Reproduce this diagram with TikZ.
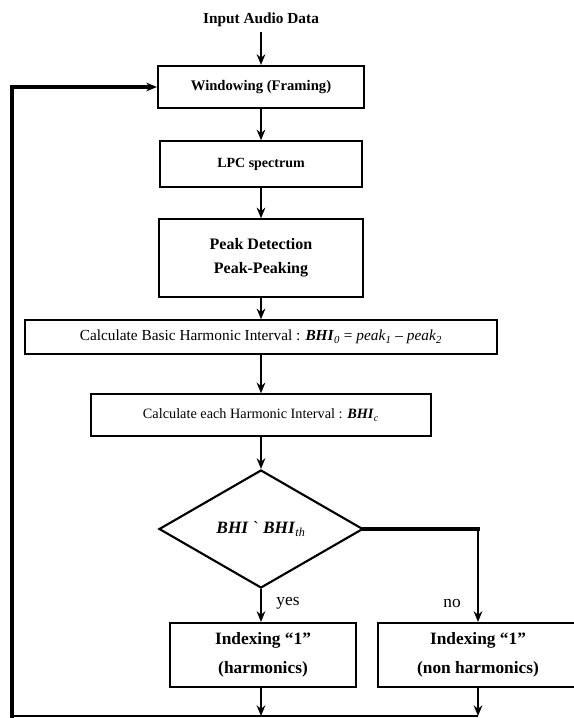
\documentclass[tikz,border=0pt]{standalone}
\usepackage{fontspec}
\setmainfont{Liberation Serif}
\usetikzlibrary{shapes.geometric,arrows.meta}
\newcommand\bhi{\textbf{\textit{BHI}}}

\begin{document}
\begin{tikzpicture}[x=0.75pt,y=-0.75pt,
    box/.style={draw,line width=1.6pt,inner sep=2pt,align=center},
    flow/.style={line width=1.7pt,-{Stealth[length=8pt,width=6.5pt]}},
    heavy/.style={line width=2.6pt,line cap=rect}]
    \useasboundingbox (0,0) rectangle (574,718);
    \node (in) at (261,20) [font=\fontsize{11.5}{13}\selectfont\bfseries] {Input Audio Data}; % source
    \node (win) at (261,87) [box,minimum width=154.5pt,minimum height=31.5pt,font=\fontsize{11}{13}\selectfont\bfseries] {Windowing (Framing)};
    \node (lpc) at (261,164) [box,minimum width=152pt,minimum height=34pt,font=\fontsize{10.5}{13}\selectfont\bfseries] {LPC spectrum};
    \node (peak) at (261,258) [box,minimum width=153pt,minimum height=58pt,font=\fontsize{12}{18}\selectfont\bfseries] {Peak Detection\\ Peak-Peaking};
    \node (basic) at (261,337) [box,minimum width=354pt,minimum height=25pt,font=\fontsize{11.5}{13}\selectfont] {Calculate Basic Harmonic Interval : \bhi\textsubscript{\textit{0}} = \textit{peak}\textsubscript{\textit{1}} -- \textit{peak}\textsubscript{\textit{2}}};
    \node (each) at (261,415) [box,minimum width=255pt,minimum height=31pt,font=\fontsize{10.7}{13}\selectfont] {Calculate each Harmonic Interval : \bhi\textsubscript{\textit{c}}};
    \node (test) at (261,529) [box,diamond,inner sep=0pt,minimum width=153pt,minimum height=88.5pt,font=\fontsize{13}{15}\selectfont] {\bhi{} \textasciigrave{} \bhi\textsubscript{\textit{th}}}; % decision
    \node (harm) at (263,655) [box,minimum width=139.5pt,minimum height=48pt,font=\fontsize{13}{22}\selectfont\bfseries] {Indexing “1”\\ (harmonics)};
    \node (non) at (478,655) [box,minimum width=150pt,minimum height=48pt,font=\fontsize{13}{22}\selectfont\bfseries] {Indexing “1”\\ (non harmonics)};
    \node (yes) at (288,603) [font=\fontsize{13}{15}\selectfont] {yes};
    \node (no) at (452,603) [font=\fontsize{13}{15}\selectfont] {no};
    \coordinate (turn) at (test.east -| non.north); % no branch corner
    \coordinate (back) at (12,716); % loop corner
    \draw[flow] (in) -- (win);
    \draw[flow] (win) -- (lpc);
    \draw[flow] (lpc) -- (peak);
    \draw[flow] (peak) -- (basic);
    \draw[flow] (basic) -- (each);
    \draw[flow] (each) -- (test);
    \draw[flow] (test.south) -- (test.south |- harm.north);
    \draw[heavy] (test.east) -- (turn);
    \draw[flow] (turn) -- (non.north);
    \draw[flow] (harm.south -| test.south) -- (test.south |- back);
    \draw[flow] (non) -- (non |- back);
    \draw[line width=1.7pt] (non |- back) -- (back);
    \draw[flow,heavy] (back) |- (win.west);
  \end{tikzpicture}
\end{document}
